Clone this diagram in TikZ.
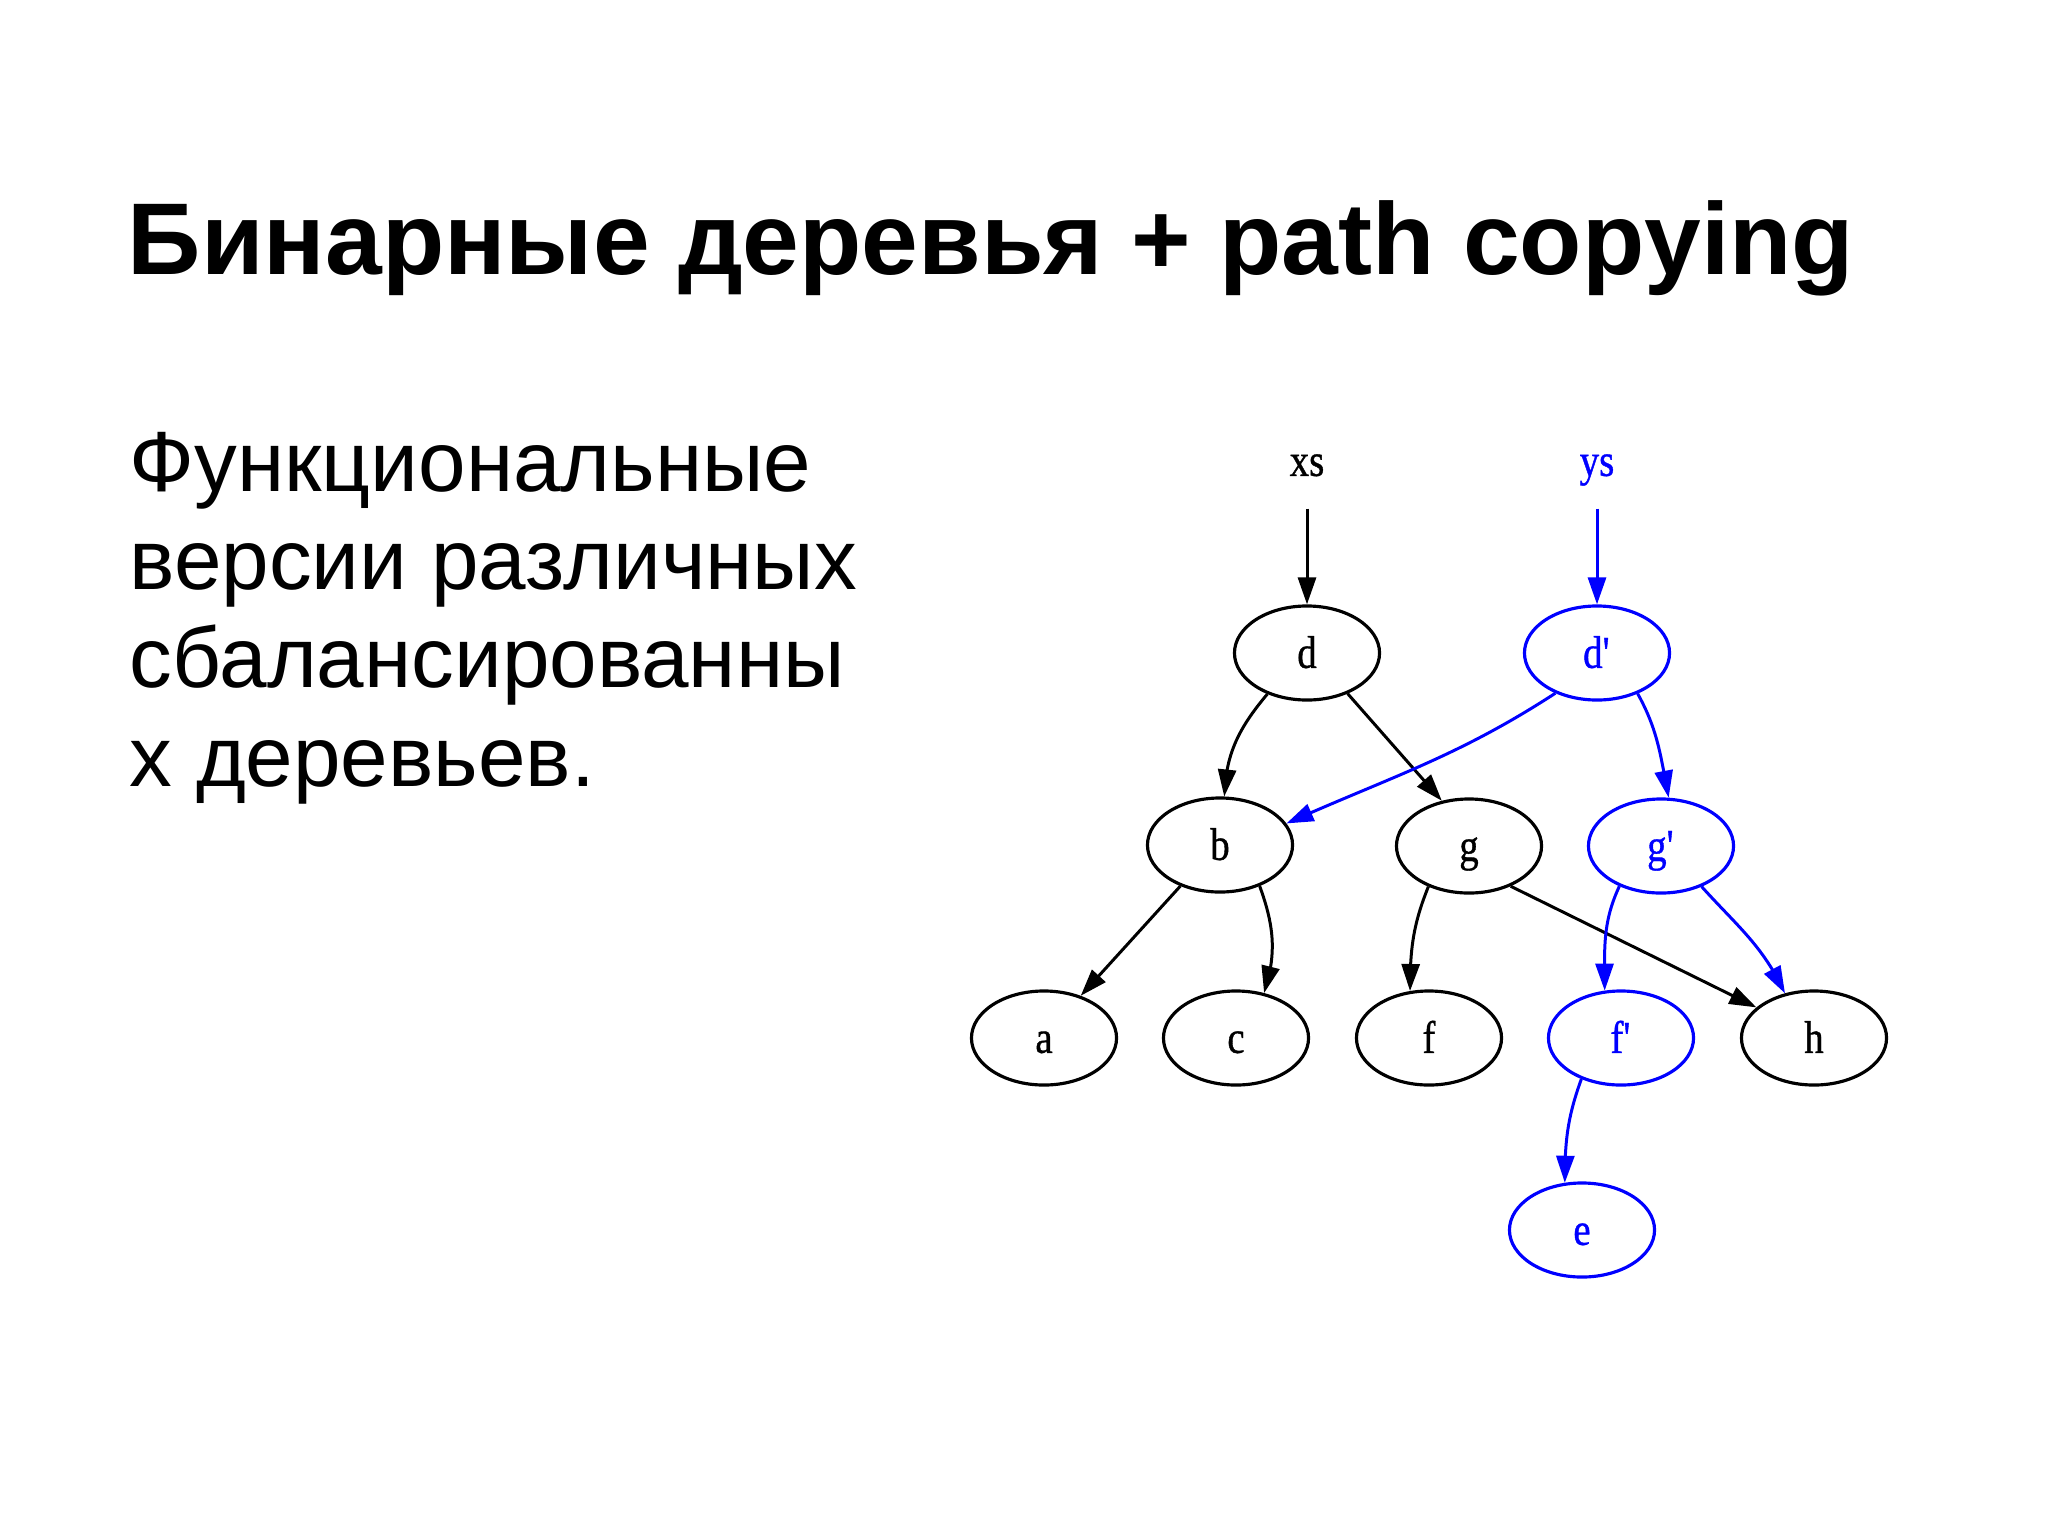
\documentclass[tikz,border=0pt]{standalone}
\usepackage{fontspec}
\setmainfont{Liberation Sans}
\newfontfamily\gvfont[FakeStretch=0.85,FakeBold=0.8]{Liberation Serif}
\usetikzlibrary{shapes.geometric,arrows.meta,bending}
\definecolor{gvblue}{RGB}{0,0,255}
\begin{document}
\begin{tikzpicture}[x=0.01cm,y=-0.01cm,
  lbl/.style={font=\gvfont\fontsize{13}{15}\selectfont,text height=1.8ex,text depth=0.2ex},
  tnode/.style={ellipse,draw,line width=0.9pt,minimum width=1.45cm,minimum height=0.94cm,inner sep=0pt,lbl},
  bnode/.style={tnode,draw=gvblue,text=gvblue},
  ptr/.style={inner sep=0pt,minimum height=0.94cm,lbl},
  blk/.style={line width=0.85pt,-{Triangle[length=0.27cm,width=0.18cm,flex]}},
  blu/.style={blk,color=gvblue},
  titlefont/.style={font=\bfseries\fontsize{29}{34}\selectfont},
  bodyfont/.style={font=\fontsize{24.3}{28}\selectfont}
]
\useasboundingbox (0,0) rectangle (2048,1536);
\fill[white] (0,0) rectangle (2048,1536);

\node[titlefont,anchor=base west,inner sep=0pt] (title) at (127,274) {Бинарные деревья + path copying};

\node[bodyfont,anchor=base west,inner sep=0pt] (l1) at (129,491) {Функциональные};
\node[bodyfont,anchor=base west,inner sep=0pt] (l2) at (129,589) {версии различных};
\node[bodyfont,anchor=base west,inner sep=0pt] (l3) at (129,687) {сбалансированны};
\node[bodyfont,anchor=base west,inner sep=0pt] (l4) at (129,786) {х деревьев.};

\node[ptr] (xs) at (1307,461) {xs};
\node[ptr,text=gvblue] (ys) at (1597,461) {ys};

\node[tnode] (d) at (1307,653) {d};
\node[bnode] (dp) at (1597,653) {d\textquotesingle};
\node[tnode] (b) at (1220,845) {b};
\node[tnode] (g) at (1469,846) {g};
\node[bnode] (gp) at (1661,846) {g\textquotesingle};
\node[tnode] (a) at (1044,1038) {a};
\node[tnode] (c) at (1236,1038) {c};
\node[tnode] (f) at (1429,1038) {f};
\node[bnode] (fp) at (1621,1038) {f\textquotesingle};
\node[tnode] (h) at (1814,1038) {h};
\node[bnode] (e) at (1582,1230) {e};

\draw[blk] (xs) -- (d);
\draw[blu] (ys) -- (dp);
\draw[blk] (d.-134) to[out=-130,in=88] (b.85);
\draw[blk] (d.-45) -- (g.121);
\draw[blu] (dp.-136) to[out=-147,in=24] (b.18);
\draw[blu] (dp.-45) to[out=-61,in=101] (gp.81);
\draw[blk] (b.-134) -- (a.49);
\draw[blk] (b.-46) to[out=-70,in=72] (c.58);
\draw[blk] (g.-135) to[out=-112,in=90] (f.112);
\draw[blk] (g.-44) -- (h.152);
\draw[blu] (gp.-136) to[out=-115,in=90] (fp.109);
\draw[blu] (gp.-45) to[out=-48,in=115] (h.123);
\draw[blu] (fp.-134) to[out=-110,in=90] (e.110);
\end{tikzpicture}
\end{document}
